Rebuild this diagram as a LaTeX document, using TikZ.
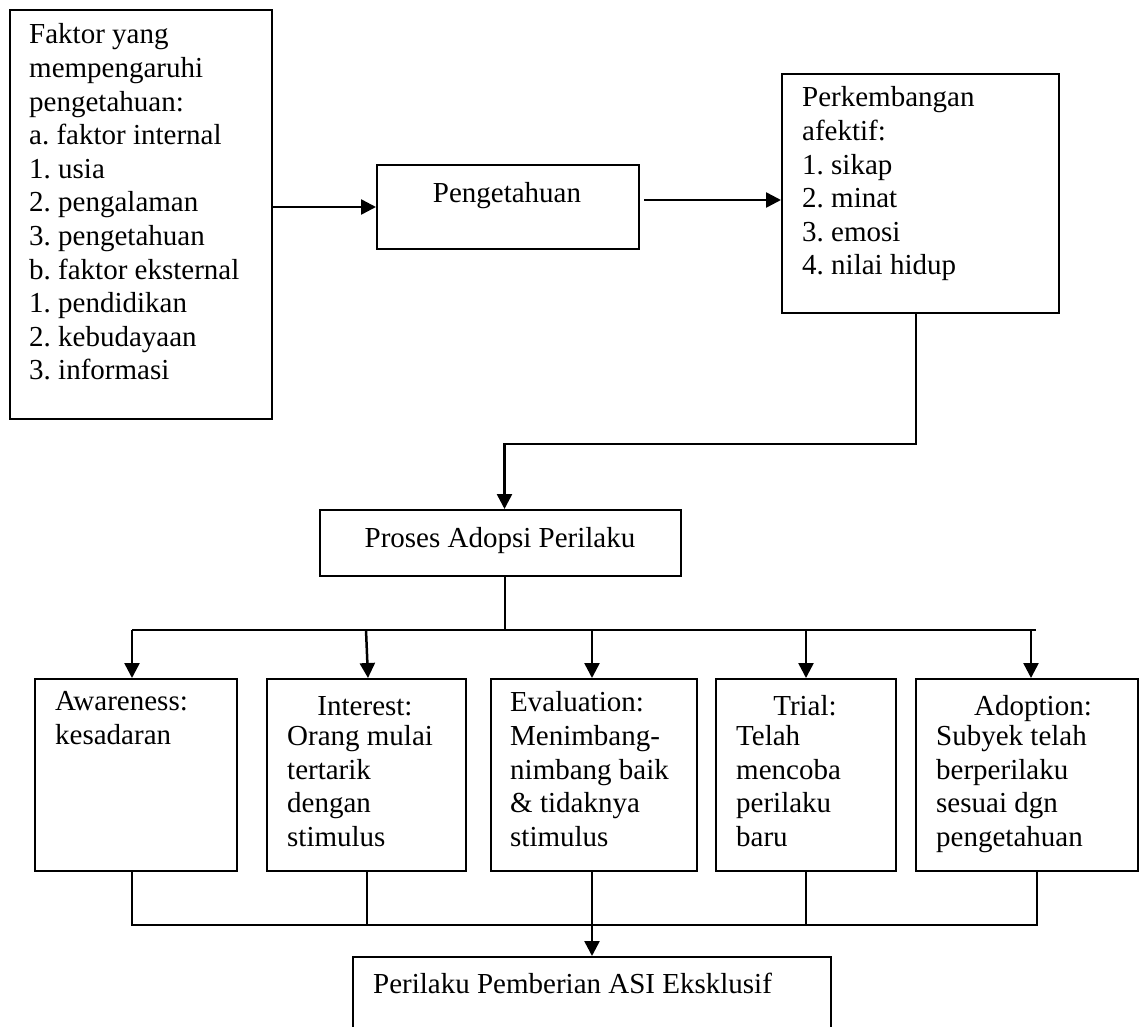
\documentclass[tikz,border=0pt]{standalone}
\usepackage{fontspec}
\setmainfont{Liberation Serif}
\usetikzlibrary{arrows.meta}
\frenchspacing
\begin{document}
\begin{tikzpicture}[x=1pt,y=-1pt,
  box/.style={draw, line width=2pt, inner sep=0pt, anchor=north west},
  txt/.style={inner sep=0pt, anchor=north west, yshift=23.52pt, align=left, font=\fontsize{29}{33.6}\selectfont, execute at begin node=\strut},
  ctr/.style={inner sep=0pt, anchor=base, font=\fontsize{29}{33.6}\selectfont},
  arr/.style={line width=2.5pt, -{Triangle[length=15pt,width=15pt]}},
  ln/.style={line width=2pt}]
\useasboundingbox (0,0) rectangle (1142,1026);
\clip (0,0) rectangle (1142,1026);
% boxes
\node[box, minimum width=262pt, minimum height=409pt] (b1) at (9,9) {};
\node[box, minimum width=262pt, minimum height=84pt] (b2) at (376,164) {};
\node[box, minimum width=277pt, minimum height=239pt] (b3) at (781,73) {};
\node[box, minimum width=361pt, minimum height=66pt] (b4) at (319,509) {};
\node[box, minimum width=202pt, minimum height=192pt] (b5) at (34,678) {};
\node[box, minimum width=199pt, minimum height=192pt] (b6) at (266,678) {};
\node[box, minimum width=206pt, minimum height=192pt] (b7) at (490,678) {};
\node[box, minimum width=180pt, minimum height=192pt] (b8) at (715,678) {};
\node[box, minimum width=222pt, minimum height=192pt] (b9) at (915,678) {};
\node[box, minimum width=478pt, minimum height=100pt] (b10) at (352,956) {};
% texts
\node[txt] (t1) at (29,47) {Faktor yang\\mempengaruhi\\pengetahuan:\\a. faktor internal\\1. usia\\2. pengalaman\\3. pengetahuan\\b. faktor eksternal\\1. pendidikan\\2. kebudayaan\\3. informasi};
\node[ctr] (t2) at (507,202) {Pengetahuan};
\node[txt] (t3) at (802,110) {Perkembangan\\afektif:\\1. sikap\\2. minat\\3. emosi\\4. nilai hidup};
\node[ctr] (t4) at (500,547) {Proses Adopsi Perilaku};
\node[txt] (t5) at (55,715) {Awareness:\\kesadaran};
\node[ctr] (t6h) at (365,715) {Interest:};
\node[txt] (t6) at (287,748.6) {Orang mulai\\tertarik\\dengan\\stimulus};
\node[txt] (t7) at (510,715) {Evaluation:\\Menimbang-\\nimbang baik\\\& tidaknya\\stimulus};
\node[ctr] (t8h) at (805,715) {Trial:};
\node[txt] (t8) at (736,748.6) {Telah\\mencoba\\perilaku\\baru};
\node[ctr] (t9h) at (1033,715) {Adoption:};
\node[txt] (t9) at (936,748.6) {Subyek telah\\berperilaku\\sesuai dgn\\pengetahuan};
\node[txt] (t10) at (373,993) {Perilaku Pemberian ASI Eksklusif};
% connectors
\draw[arr] (b1.east |- b2.west) -- (b2.west);
\draw[arr] ([xshift=4pt,yshift=7pt]b2.east) -- ([yshift=-6.5pt]b3.west);
\draw[arr] ([xshift=-4.5pt]b3.south) -- ++(0,130) -| ([xshift=4pt]b4.north);
\coordinate (bus) at ([xshift=4pt,yshift=-53pt]b4.south);
\draw[ln] ([xshift=4pt]b4.south) -- (bus);
\draw[ln] ([xshift=-4pt]b5.north |- bus) -- ([xshift=9pt]b9.north |- bus);
\draw[arr] ([xshift=-4pt]b5.north |- bus) -- ([xshift=-4pt]b5.north);
\draw[arr] ([xshift=-0.5pt]b6.north |- bus) -- ([xshift=1.5pt]b6.north);
\draw[arr] ([xshift=-2pt]b7.north |- bus) -- ([xshift=-2pt]b7.north);
\draw[arr] (b8.north |- bus) -- (b8.north);
\draw[arr] ([xshift=4pt]b9.north |- bus) -- ([xshift=4pt]b9.north);
\coordinate (bot) at ([yshift=-53pt]b7.south);
\draw[ln] ([xshift=-4pt]b5.south) |- ([xshift=10pt]b9.south |- bot) -- ([xshift=10pt]b9.south);
\draw[ln] (b6.south) -- (b6.south |- bot);
\draw[ln] (b8.south) -- (b8.south |- bot);
\draw[arr] ([xshift=-2pt]b7.south) -- (b10.north);
\end{tikzpicture}
\end{document}
